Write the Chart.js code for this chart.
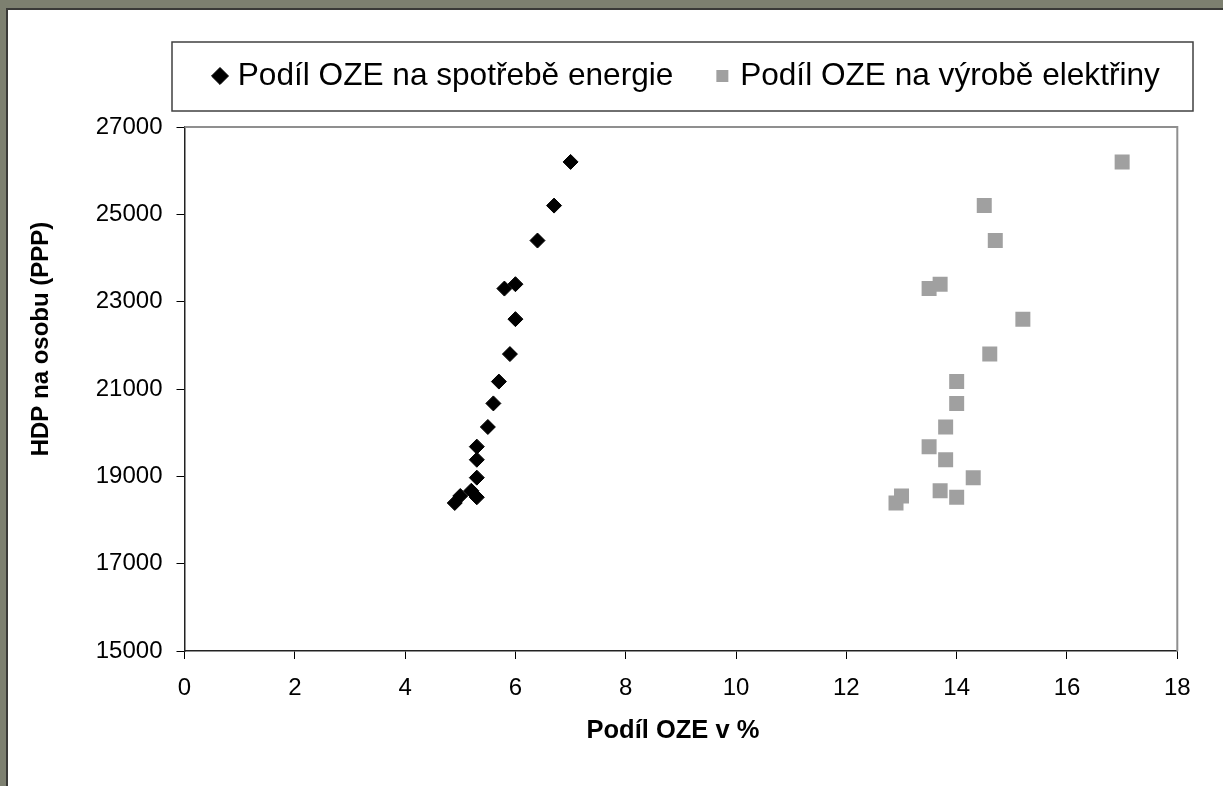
<!DOCTYPE html>
<html>
<head>
<meta charset="utf-8">
<script src="https://cdn.jsdelivr.net/npm/chart.js@4.4.1/dist/chart.umd.min.js"></script>
<style>
html,body{margin:0;padding:0;width:1223px;height:786px;overflow:hidden;background:#7d8070;}
#frame{position:absolute;left:6px;top:8px;width:1217px;height:778px;border-left:2px solid #3a3a38;border-top:2px solid #3a3a38;background:#fff;}
#c{position:absolute;left:0;top:0;}
</style>
</head>
<body>
<div id="frame"><canvas id="c" width="1215" height="776"></canvas></div>
<script>
// HDP na osobu (PPP) — shared y values
const gdpPerCapita = [26200, 25200, 24400, 23400, 23300, 22600, 21800, 21170, 20670, 20130, 19680, 19380, 18970, 18670, 18520, 18550, 18390];
// Podíl OZE na spotřebě energie (%)
const shareEnergy = [7.0, 6.7, 6.4, 6.0, 5.8, 6.0, 5.9, 5.7, 5.6, 5.5, 5.3, 5.3, 5.3, 5.2, 5.3, 5.0, 4.9];
// Podíl OZE na výrobě elektřiny (%)
const shareElectricity = [17.0, 14.5, 14.7, 13.7, 13.5, 15.2, 14.6, 14.0, 14.0, 13.8, 13.5, 13.8, 14.3, 13.7, 14.0, 13.0, 12.9];

const seriesNames = ['Podíl OZE na spotřebě energie', 'Podíl OZE na výrobě elektřiny'];
const xAxisTitle = 'Podíl OZE v %';
const yAxisTitle = 'HDP na osobu (PPP)';
const xTickRange = [0, 18, 2];
const yTickRange = [15000, 27000, 2000];

Chart.defaults.font.family = "Arial, 'Liberation Sans', sans-serif";
Chart.defaults.color = '#000';

const decorPlugin = {
  id: 'decor',
  afterLayout(chart) {
    const lg = chart.legend;
    const w = lg.width, h = lg.height;
    lg.left = 163; lg.right = 163 + w;
    lg.top = 3.2; lg.bottom = 3.2 + h;
    const ys = chart.scales.y, xs = chart.scales.x;
    if (!ys._shifted) {
      const o = ys.drawTitle;
      ys.drawTitle = function () { const c = this.ctx; c.save(); c.translate(0, -50); o.call(this); c.restore(); };
      ys._shifted = true;
    }
    if (!xs._shifted) {
      const o2 = xs.drawTitle;
      xs.drawTitle = function () { const c = this.ctx; c.save(); c.translate(-8, 0); o2.call(this); c.restore(); };
      xs._shifted = true;
    }
  },
  beforeDatasetsDraw(chart) {
    const {ctx, chartArea: a} = chart;
    ctx.save();
    ctx.strokeStyle = '#8f8f8f';
    ctx.lineWidth = 2;
    ctx.beginPath();
    ctx.moveTo(a.left, a.top);
    ctx.lineTo(a.right, a.top);
    ctx.lineTo(a.right, a.bottom);
    ctx.stroke();
    ctx.restore();
  },
  afterDraw(chart) {
    const ctx = chart.ctx;
    ctx.save();
    ctx.strokeStyle = '#404040';
    ctx.lineWidth = 1.5;
    ctx.strokeRect(164, 32, 1021, 69);
    ctx.restore();
  }
};

new Chart(document.getElementById('c'), {
  type: 'scatter',
  data: {
    datasets: [
      {
        label: seriesNames[0],
        data: gdpPerCapita.map((g, i) => ({x: shareEnergy[i], y: g})),
        pointStyle: 'rectRot',
        pointRadius: 7.5,
        backgroundColor: '#000',
        borderColor: '#000',
        borderWidth: 1
      },
      {
        label: seriesNames[1],
        data: gdpPerCapita.map((g, i) => ({x: shareElectricity[i], y: g})),
        pointStyle: 'rect',
        pointRadius: 10.6,
        backgroundColor: '#a0a0a0',
        borderColor: '#a0a0a0',
        borderWidth: 0
      }
    ]
  },
  options: {
    responsive: false,
    animation: false,
    devicePixelRatio: 1,
    layout: {padding: {left: 0, right: 45.7, top: 28.4, bottom: 35}},
    plugins: {
      tooltip: {enabled: false},
      legend: {
        position: 'top',
        align: 'start',
        labels: {
          usePointStyle: true,
          boxWidth: 4,
          boxHeight: 12,
          padding: 47,
          color: '#000',
          font: {size: 31.6}
        }
      }
    },
    scales: {
      x: {
        type: 'linear',
        min: xTickRange[0], max: xTickRange[1],
        afterFit: s => { s.height = 100; },
        ticks: {stepSize: xTickRange[2], padding: 14.6, color: '#000', font: {size: 24}},
        grid: {display: true, drawOnChartArea: false, drawTicks: true, tickLength: 8, color: '#000', lineWidth: 1},
        border: {display: true, color: '#222', width: 1.5},
        title: {display: true, text: xAxisTitle, color: '#000', font: {size: 25.5, weight: 'bold', lineHeight: 1.2}, padding: {top: 0, bottom: 4.7}}
      },
      y: {
        type: 'linear',
        min: yTickRange[0], max: yTickRange[1],
        afterFit: s => { s.width = 176.5; },
        ticks: {stepSize: yTickRange[2], padding: 14, color: '#000', font: {size: 24}, callback: v => String(v)},
        grid: {display: true, drawOnChartArea: false, drawTicks: true, tickLength: 8, color: '#000', lineWidth: 1},
        border: {display: true, color: '#222', width: 1.5},
        title: {display: true, text: yAxisTitle, color: '#000', font: {size: 24, weight: 'bold', lineHeight: 1.2}, padding: {top: 18.6, bottom: 0}}
      }
    }
  },
  plugins: [decorPlugin]
});
</script>
</body>
</html>
